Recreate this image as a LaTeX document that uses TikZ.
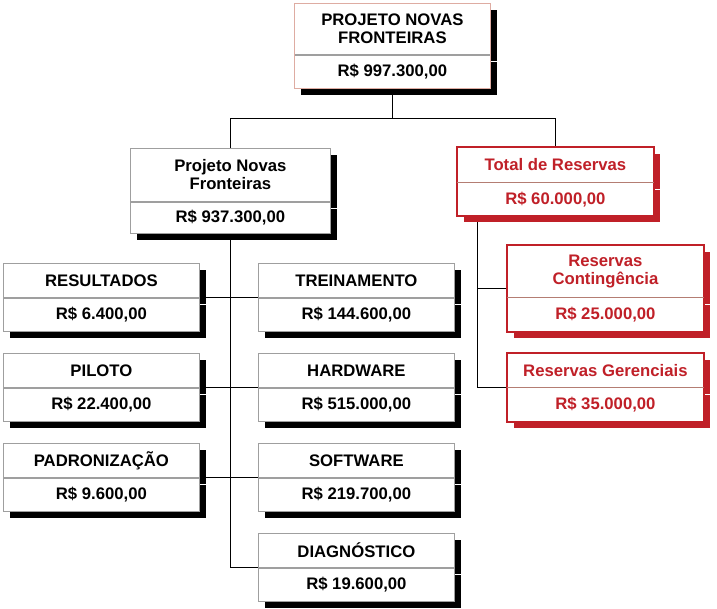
\documentclass[tikz,border=0pt]{standalone}
\usepackage{fontspec}
\setmainfont{Liberation Sans}
\usetikzlibrary{positioning,calc,shadows,backgrounds}
\definecolor{resred}{RGB}{192,32,40}
\definecolor{splitred}{RGB}{180,125,115}
\definecolor{toppink}{RGB}{222,172,162}

\tikzset{
  box/.style={fill=white, draw=gray!75, line width=0.8pt, minimum width=196pt,
    inner sep=0pt, align=center, font=\bfseries\fontsize{16.7}{18}\selectfont,
    drop shadow={shadow xshift=7pt, shadow yshift=-7pt, opacity=1, fill=#1}},
  box/.default=black,
  head/.style={box=#1, anchor=north west, minimum height=34pt},
  head/.default=black,
  cost/.style={box=#1, minimum height=33pt},
  cost/.default=black,
  reserve/.style={draw=none, text=resred},
  redframe/.style={draw=resred, line width=1.8pt},
  redsplit/.style={draw=splitred, line width=0.8pt},
  link/.style={draw=black, line width=0.8pt}
}

\begin{document}
\begin{tikzpicture}[x=1pt, y=-1pt]
  \useasboundingbox (0,0) rectangle (717,608);

  % projeto e primeiro nivel
  \node[head, minimum height=51pt] (proj) at (294,3) {PROJETO NOVAS\\FRONTEIRAS};
  \node[cost, below=0pt of proj] (projv) {R\$ 997.300,00};
  \draw[toppink, line width=0.8pt] (proj.north west) rectangle (projv.south east);

  \node[head, minimum height=53pt, minimum width=200pt] (pnf) at (130,148) {Projeto Novas\\Fronteiras};
  \node[cost, minimum height=31pt, minimum width=200pt, below=0pt of pnf] (pnfv) {R\$ 937.300,00};

  % reservas
  \node[head=resred, reserve, minimum height=35pt] (tot) at (457,147) {Total de Reservas};
  \node[cost=resred, reserve, minimum height=32pt, below=0pt of tot] (totv) {R\$ 60.000,00};
  \draw[redframe] (tot.north west) rectangle (totv.south east);
  \draw[redsplit] (tot.south west) -- (tot.south east);

  \node[head=resred, reserve, minimum height=52pt] (rc) at (507,245) {Reservas\\Contingência};
  \node[cost=resred, reserve, below=0pt of rc] (rcv) {R\$ 25.000,00};
  \draw[redframe] (rc.north west) rectangle (rcv.south east);
  \draw[redsplit] (rc.south west) -- (rc.south east);

  \node[head=resred, reserve] (rg) at (507,353) {Reservas Gerenciais};
  \node[cost=resred, reserve, below=0pt of rg] (rgv) {R\$ 35.000,00};
  \draw[redframe] (rg.north west) rectangle (rgv.south east);
  \draw[redsplit] (rg.south west) -- (rg.south east);

  % pacotes de trabalho
  \node[head] (res) at (3,263) {RESULTADOS};
  \node[cost, below=0pt of res] (resv) {R\$ 6.400,00};
  \node[head] (trein) at (258,263) {TREINAMENTO};
  \node[cost, below=0pt of trein] (treinv) {R\$ 144.600,00};

  \node[head] (pil) at (3,353) {PILOTO};
  \node[cost, below=0pt of pil] (pilv) {R\$ 22.400,00};
  \node[head] (hw) at (258,353) {HARDWARE};
  \node[cost, below=0pt of hw] (hwv) {R\$ 515.000,00};

  \node[head] (pad) at (3,443) {PADRONIZAÇÃO};
  \node[cost, below=0pt of pad] (padv) {R\$ 9.600,00};
  \node[head] (sw) at (258,443) {SOFTWARE};
  \node[cost, below=0pt of sw] (swv) {R\$ 219.700,00};

  \node[head] (diag) at (258,533) {DIAGNÓSTICO};
  \node[cost, below=0pt of diag] (diagv) {R\$ 19.600,00};

  % ligacoes
  \begin{scope}[on background layer]
    \draw[link] (projv.south) -- ++(0,30) coordinate (hub);
    \draw[link] (pnf.north) |- (hub) -| (tot.north);
    \draw[link] (pnfv.south) |- (diag.south west);
    \draw[link] (res.south east) -- (trein.south west);
    \draw[link] (pil.south east) -- (hw.south west);
    \draw[link] (pad.south east) -- (sw.south west);
    \coordinate (rtop) at ([xshift=20pt]totv.south west);
    \draw[link] ($(rc.north west)!.5!(rcv.south west)$) -| (rtop);
    \draw[link] (rtop) |- ($(rg.north west)!.5!(rgv.south west)$);
  \end{scope}
\end{tikzpicture}
\end{document}
